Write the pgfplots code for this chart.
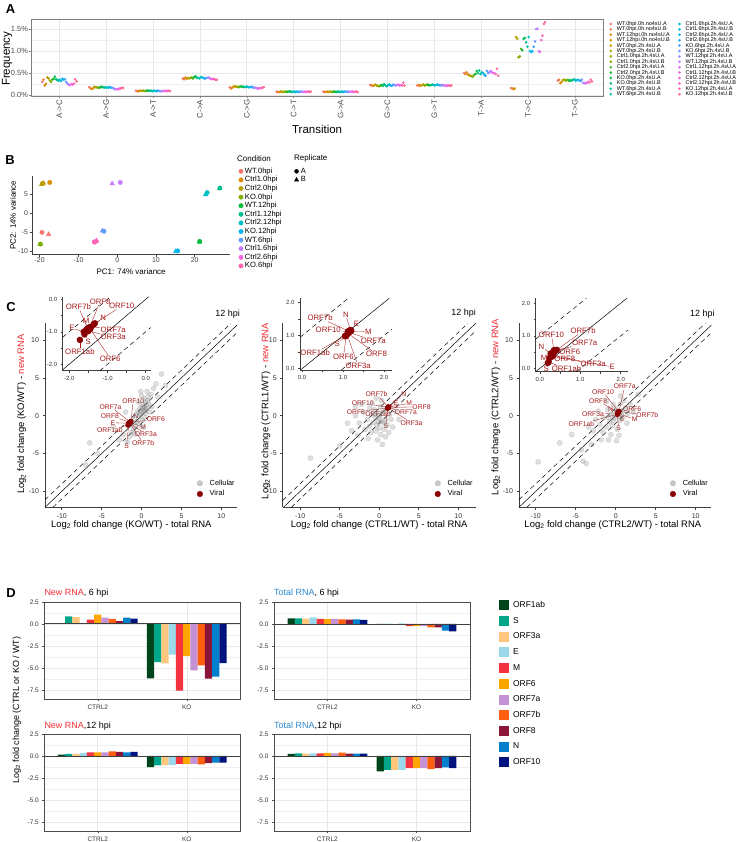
\documentclass[border=0pt]{standalone}
\usepackage{pgfplots}
\pgfplotsset{compat=1.18}
\usepackage{pgfplotstable}
\usepackage{fontspec}
\setmainfont{Liberation Sans}

\definecolor{hc0}{RGB}{248,118,109}
\definecolor{hc1}{RGB}{237,127,62}
\definecolor{hc2}{RGB}{226,137,16}
\definecolor{hc3}{RGB}{211,145,0}
\definecolor{hc4}{RGB}{194,154,0}
\definecolor{hc5}{RGB}{175,161,0}
\definecolor{hc6}{RGB}{149,168,0}
\definecolor{hc7}{RGB}{124,174,0}
\definecolor{hc8}{RGB}{71,179,24}
\definecolor{hc9}{RGB}{18,184,48}
\definecolor{hc10}{RGB}{0,188,80}
\definecolor{hc11}{RGB}{0,190,115}
\definecolor{hc12}{RGB}{0,192,147}
\definecolor{hc13}{RGB}{0,191,172}
\definecolor{hc14}{RGB}{0,191,196}
\definecolor{hc15}{RGB}{0,186,215}
\definecolor{hc16}{RGB}{0,182,234}
\definecolor{hc17}{RGB}{28,173,244}
\definecolor{hc18}{RGB}{69,163,251}
\definecolor{hc19}{RGB}{112,151,255}
\definecolor{hc20}{RGB}{155,138,255}
\definecolor{hc21}{RGB}{199,124,255}
\definecolor{hc22}{RGB}{219,114,243}
\definecolor{hc23}{RGB}{238,103,231}
\definecolor{hc24}{RGB}{248,100,212}
\definecolor{hc25}{RGB}{252,100,191}
\definecolor{hc26}{RGB}{254,103,166}
\definecolor{hc27}{RGB}{251,110,138}

\definecolor{bc1}{HTML}{F8766D}
\definecolor{bc2}{HTML}{DE8C00}
\definecolor{bc3}{HTML}{B79F00}
\definecolor{bc4}{HTML}{7CAE00}
\definecolor{bc5}{HTML}{00BA38}
\definecolor{bc6}{HTML}{00C08B}
\definecolor{bc7}{HTML}{00BFC4}
\definecolor{bc8}{HTML}{00B4F0}
\definecolor{bc9}{HTML}{619CFF}
\definecolor{bc10}{HTML}{C77CFF}
\definecolor{bc11}{HTML}{F564E3}
\definecolor{bc12}{HTML}{FF64B0}

\definecolor{orf0}{RGB}{0,68,27}
\definecolor{orf1}{RGB}{0,166,138}
\definecolor{orf2}{RGB}{255,199,125}
\definecolor{orf3}{RGB}{155,216,234}
\definecolor{orf4}{RGB}{245,51,63}
\definecolor{orf5}{RGB}{255,165,0}
\definecolor{orf6}{RGB}{195,145,212}
\definecolor{orf7}{RGB}{255,94,14}
\definecolor{orf8}{RGB}{139,21,56}
\definecolor{orf9}{RGB}{0,127,204}
\definecolor{orf10}{RGB}{0,20,128}

\definecolor{newred}{RGB}{238,45,55}
\definecolor{totblue}{RGB}{45,135,205}
\definecolor{labred}{RGB}{165,25,25}
\definecolor{vir}{RGB}{139,0,0}
\definecolor{gridc}{RGB}{232,232,232}

\newcommand\fs[1]{\fontsize{#1}{#1}\selectfont}
\newcommand\labm[5]{\node[font=\fs{6.8}, text=labred, inner sep=0.5bp] (L) at (axis cs:#4,#5) {#1};
  \draw[labred, line width=0.35bp] (axis cs:#2,#3) -- (L);}
\newcommand\labi[5]{\node[font=\fs{7.8}, text=labred, inner sep=0.5bp] (L) at (axis cs:#4,#5) {#1};
  \draw[labred, line width=0.35bp] (axis cs:#2,#3) -- (L);}

\pgfplotsset{
  every axis/.append style={/pgf/number format/assume math mode=true},
  cmain/.style={scale only axis, anchor=south west, height=184bp, ymin=-12.1, ymax=12.2,
    axis lines=left, axis line style={-, black!75, line width=0.55bp},
    xtick={-10,-5,0,5,10}, xticklabels={-10,-5,0,5,10},
    ytick={-10,-5,0,5,10}, yticklabels={-10,-5,0,5,10},
    tick align=outside, major tick length=2.5bp, tick style={black!75, line width=0.55bp},
    tick label style={font=\fs{7}, text=black!80},
    label style={font=\fs{9.5}}, xlabel style={anchor=center}, ylabel style={anchor=center},
    legend cell align=left,
    legend style={anchor=north west, draw=none, fill=none, inner sep=0pt, outer sep=0pt, font=\fs{7.4},
      nodes={inner sep=0pt, text height=5.5bp, text depth=1.5bp}, row sep=3.7bp,
      /tikz/every odd column/.append style={column sep=7bp}},
    legend image code/.code={\draw[##1] plot coordinates {(0bp,0bp)};},
    clip=false},
  cell/.style={only marks, mark=*, mark size=2.6bp, gray, opacity=0.26, mark options={draw=none}, forget plot},
  cins/.style={scale only axis, anchor=south west,
    axis lines=left, axis line style={-, black!75, line width=0.5bp},
    tick align=outside, major tick length=2bp, minor tick length=2bp, tick style={black!75, line width=0.5bp},
    tick label style={font=\fs{6}, text=black!80}, clip=false},
  dstyle/.style={scale only axis, anchor=south west, width=196bp, height=97.2bp,
    xmin=0.4, xmax=2.6, ymin=-8.5, ymax=2.5,
    xtick={1,2}, xticklabels={CTRL2,KO}, ytick={-7.5,-5,-2.5,0,2.5}, yticklabels={-7.5,-5.0,-2.5,0.0,2.5},
    minor ytick={-6.25,-3.75,-1.25,1.25}, grid=both,
    major grid style={gridc, line width=0.6bp}, minor grid style={gridc!70, line width=0.35bp},
    axis line style={black!70, line width=0.6bp}, tick style={black!70, line width=0.5bp},
    tick align=outside, major tick length=2bp, minor tick length=0pt, tick pos=left,
    tick label style={font=\fs{6.5}, text=black!80}, clip=true},
  sqleg/.style={legend image code/.code={\fill[##1] (0bp,-5bp) rectangle (10bp,5bp);}},
  dbar/.style={ybar, bar width=7.2bp, bar shift={(#1-5)*7.25bp}, fill=orf#1, draw=none, sqleg},
}

\pgfplotstableread{
s0 s1 s2 s3 s4 s5 s6 s7 s8 s9 s10 s11 s12 s13 s14 s15 s16 s17 s18 s19 s20 s21 s22 s23 s24 s25 s26 s27
0.30 0.35 0.22 0.26 0.40 0.38 0.33 0.30 0.35 0.37 0.42 0.36 0.34 0.33 0.35 0.32 0.37 0.35 0.36 0.30 0.26 0.24 0.23 0.25 0.24 0.26 0.36 0.31
0.18 0.16 0.14 0.15 0.19 0.18 0.18 0.17 0.17 0.18 0.19 0.18 0.17 0.18 0.17 0.17 0.18 0.17 0.17 0.16 0.14 0.13 0.14 0.13 0.15 0.15 0.17 0.16
0.10 0.09 0.09 0.10 0.10 0.10 0.10 0.09 0.10 0.10 0.10 0.10 0.10 0.09 0.10 0.10 0.09 0.10 0.10 0.09 0.09 0.09 0.10 0.09 0.10 0.09 0.10 0.09
0.38 0.36 0.40 0.37 0.39 0.38 0.39 0.40 0.38 0.41 0.43 0.40 0.39 0.38 0.40 0.41 0.39 0.38 0.38 0.39 0.40 0.39 0.37 0.36 0.37 0.36 0.35 0.35
0.18 0.15 0.17 0.19 0.20 0.19 0.19 0.18 0.19 0.20 0.19 0.19 0.18 0.19 0.19 0.18 0.18 0.19 0.18 0.17 0.17 0.16 0.15 0.15 0.16 0.16 0.17 0.18
0.08 0.07 0.07 0.08 0.08 0.07 0.08 0.08 0.07 0.08 0.08 0.08 0.07 0.08 0.08 0.07 0.08 0.08 0.07 0.08 0.08 0.07 0.08 0.07 0.08 0.08 0.07 0.08
0.08 0.07 0.07 0.08 0.07 0.08 0.08 0.07 0.08 0.08 0.07 0.08 0.08 0.07 0.08 0.08 0.07 0.08 0.08 0.07 0.08 0.07 0.08 0.08 0.07 0.08 0.08 0.07
0.23 0.22 0.21 0.22 0.24 0.22 0.21 0.20 0.22 0.23 0.21 0.25 0.22 0.20 0.23 0.24 0.22 0.21 0.24 0.23 0.22 0.23 0.24 0.22 0.23 0.22 0.28 0.22
0.22 0.23 0.21 0.22 0.23 0.24 0.22 0.23 0.24 0.23 0.22 0.23 0.24 0.23 0.22 0.23 0.24 0.23 0.22 0.23 0.22 0.23 0.22 0.21 0.22 0.22 0.21 0.22
0.50 0.48 0.52 0.47 0.45 0.44 0.43 0.42 0.46 0.48 0.55 0.50 0.56 0.48 0.52 0.50 0.46 0.44 0.55 0.50 0.52 0.55 0.52 0.50 0.50 0.48 0.60 0.44
0.16 0.15 0.14 0.15 1.32 1.28 0.86 0.88 1.05 1.02 1.28 1.30 1.20 1.10 1.32 1.00 0.98 1.00 1.10 1.22 1.50 1.51 1.00 0.98 1.25 1.35 1.62 1.66
0.33 0.35 0.27 0.30 0.34 0.35 0.33 0.34 0.35 0.32 0.34 0.33 0.35 0.36 0.33 0.34 0.35 0.33 0.32 0.35 0.28 0.27 0.27 0.28 0.30 0.29 0.35 0.31
}\tabA

\pgfplotstableread{
g o0 o1 o2 o3 o4 o5 o6 o7 o8 o9 o10
1 0 0.86 0.78 0 0.49 1.04 0.71 0.56 0.30 0.71 0.60
2 -6.16 -4.33 -4.48 -3.47 -7.54 -3.66 -5.26 -4.70 -6.19 -5.97 -4.44
}\tabDa
\pgfplotstableread{
g o0 o1 o2 o3 o4 o5 o6 o7 o8 o9 o10
1 0.63 0.63 0.60 0.75 0.58 0.55 0.58 0.50 0.48 0.50 0.45
2 -0.03 -0.03 -0.03 0.05 -0.26 -0.26 -0.26 -0.40 -0.40 -0.75 -0.86
}\tabDb
\pgfplotstableread{
g o0 o1 o2 o3 o4 o5 o6 o7 o8 o9 o10
1 0.15 0.22 0.22 0.34 0.41 0.41 0.41 0.52 0.45 0.41 0.45
2 -1.27 -1.08 -1.04 -1.04 -0.90 -0.90 -0.90 -0.97 -0.82 -0.75 -0.75
}\tabDc
\pgfplotstableread{
g o0 o1 o2 o3 o4 o5 o6 o7 o8 o9 o10
1 0.22 0.30 0.26 0.30 0.30 0.34 0.30 0.37 0.26 0.26 0.26
2 -1.75 -1.57 -1.57 -1.57 -1.38 -1.38 -1.38 -1.49 -1.38 -1.30 -1.38
}\tabDd

\begin{document}
\begin{tikzpicture}
\useasboundingbox (0,0) rectangle (738bp,-842bp);

% ---------------- Panel letters
\node[font=\fs{13}\bfseries] at (10.5bp,-9bp) {A};
\node[font=\fs{13}\bfseries] at (10bp,-160bp) {B};
\node[font=\fs{13}\bfseries] at (11bp,-307.5bp) {C};
\node[font=\fs{13}\bfseries] at (11bp,-593bp) {D};

% ---------------- Panel A
\begin{axis}[at={(31.2bp,-96bp)}, anchor=south west, scale only axis, width=571.8bp, height=77bp,
  xmin=0.4, xmax=12.6, ymin=-0.02, ymax=1.73,
  xtick={1,...,12}, xticklabels={A->C,A->G,A->T,C->A,C->G,C->T,G->A,G->C,G->T,T->A,T->C,T->G},
  ytick={0,0.5,1,1.5}, yticklabels={0.0\%,0.5\%,1.0\%,1.5\%},
  minor ytick={0.25,0.75,1.25},
  grid=both, major grid style={gridc, line width=0.6bp}, minor grid style={gridc!70, line width=0.35bp},
  axis line style={black!50, line width=0.6bp}, tick style={black!50, line width=0.5bp},
  tick align=outside, major tick length=2bp, minor tick length=0pt, tick pos=left,
  tick label style={font=\fs{7.5}, text=black!70},
  yticklabel style={inner sep=1bp},
  xticklabel style={rotate=90, anchor=east, inner sep=1.5bp, font=\fs{8}},
  xlabel={Transition}, ylabel={Frequency}, label style={font=\fs{11.5}},
  xlabel style={at={(axis description cs:0.5,-0.44)}, anchor=center},
  ylabel style={at={(axis description cs:-0.042,0.483)}, anchor=center},
  legend columns=14, transpose legend, legend cell align=left,
  legend style={at={(axis description cs:1.0117,0.969)}, anchor=north west, draw=none, fill=none,
    inner sep=0pt, outer sep=0pt, font=\fs{5.5},
    nodes={inner sep=0pt, text height=4.1bp, text depth=1.1bp}, row sep=0.2bp,
    /tikz/every odd column/.append style={column sep=5bp},
    /tikz/every even column/.append style={column sep=8.5bp}},
  legend image code/.code={\draw[#1] plot coordinates {(0bp,0bp)};},
  legend entries={WT.0hpi.0h.no4sU.A,WT.0hpi.0h.no4sU.B,WT.12hpi.0h.no4sU.A,WT.12hpi.0h.no4sU.B,
    WT.0hpi.2h.4sU.A,WT.0hpi.2h.4sU.B,Ctrl1.0hpi.2h.4sU.A,Ctrl1.0hpi.2h.4sU.B,
    Ctrl2.0hpi.2h.4sU.A,Ctrl2.0hpi.2h.4sU.B,KO.0hpi.2h.4sU.A,KO.0hpi.2h.4sU.B,
    WT.6hpi.2h.4sU.A,WT.6hpi.2h.4sU.B,Ctrl1.6hpi.2h.4sU.A,Ctrl1.6hpi.2h.4sU.B,
    Ctrl2.6hpi.2h.4sU.A,Ctrl2.6hpi.2h.4sU.B,KO.6hpi.2h.4sU.A,KO.6hpi.2h.4sU.B,
    WT.12hpi.2h.4sU.A,WT.12hpi.2h.4sU.B,Ctrl1.12hpi.2h.4sU.A,Ctrl1.12hpi.2h.4sU.B,
    Ctrl2.12hpi.2h.4sU.A,Ctrl2.12hpi.2h.4sU.B,KO.12hpi.2h.4sU.A,KO.12hpi.2h.4sU.B},
  clip=false]
\pgfplotsinvokeforeach{0,...,27}{%
  \addplot[only marks, mark=*, mark size=1.1bp, color=hc#1, mark options={draw=none, fill=hc#1}]
    table[x expr={\coordindex+1+(#1-13.5)*0.027}, y=s#1]{\tabA};
}
\end{axis}

% ---------------- Panel B
\begin{axis}[at={(32.3bp,-254.3bp)}, anchor=south west, scale only axis, width=197.7bp, height=78.3bp,
  xmin=-21.9, xmax=29.1, ymin=-10.9, ymax=9.8,
  axis lines=left, axis line style={-, black!75, line width=0.55bp},
  xtick={-20,-10,0,10,20}, xticklabels={-20,-10,0,10,20},
  ytick={-10,-5,0,5}, yticklabels={-10,-5,0,5},
  tick align=outside, major tick length=2.5bp, tick style={black!75, line width=0.55bp},
  tick label style={font=\fs{7}, text=black!75},
  xticklabel style={inner sep=1bp}, yticklabel style={inner sep=1.5bp},
  xlabel={PC1: 74\% variance}, ylabel={PC2: 14\% variance}, label style={font=\fs{8}},
  xlabel style={at={(axis description cs:0.5,-0.22)}, anchor=center},
  ylabel style={at={(axis description cs:-0.098,0.5)}, anchor=center},
  legend cell align=left,
  legend style={at={(axis description cs:1.0445,1.106)}, anchor=north west, draw=none, fill=none,
    inner sep=0pt, outer sep=0pt, font=\fs{7.6},
    nodes={inner sep=0pt, text height=5.6bp, text depth=1.6bp}, row sep=1.4bp,
    /tikz/every odd column/.append style={column sep=1.8bp}},
  legend image code/.code={\draw[#1] plot coordinates {(0bp,0bp)};},
  clip=false]
\addplot[only marks, mark=*, mark size=2.2bp, bc1] coordinates {(-19.4,-5.1)}; \addlegendentry{WT.0hpi}
\addplot[only marks, mark=triangle*, mark size=2.6bp, bc1, forget plot] coordinates {(-17.7,-5.6)};
\addplot[only marks, mark=*, mark size=2.2bp, bc2] coordinates {(-17.4,8.1)}; \addlegendentry{Ctrl1.0hpi}
\addplot[only marks, mark=triangle*, mark size=2.6bp, bc2, forget plot] coordinates {(-19.0,7.9)};
\addplot[only marks, mark=*, mark size=2.2bp, bc3] coordinates {(-19.3,7.8)}; \addlegendentry{Ctrl2.0hpi}
\addplot[only marks, mark=triangle*, mark size=2.6bp, bc3, forget plot] coordinates {(-19.5,7.6)};
\addplot[only marks, mark=*, mark size=2.2bp, bc4] coordinates {(-19.8,-8.2)}; \addlegendentry{KO.0hpi}
\addplot[only marks, mark=triangle*, mark size=2.6bp, bc4, forget plot] coordinates {(-19.9,-8.3)};
\addplot[only marks, mark=*, mark size=2.2bp, bc5] coordinates {(21.3,-7.5)}; \addlegendentry{WT.12hpi}
\addplot[only marks, mark=triangle*, mark size=2.6bp, bc5, forget plot] coordinates {(21.2,-7.6)};
\addplot[only marks, mark=*, mark size=2.2bp, bc6] coordinates {(26.5,6.6)}; \addlegendentry{Ctrl1.12hpi}
\addplot[only marks, mark=triangle*, mark size=2.6bp, bc6, forget plot] coordinates {(26.4,6.5)};
\addplot[only marks, mark=*, mark size=2.2bp, bc7] coordinates {(23.2,5.4)}; \addlegendentry{Ctrl2.12hpi}
\addplot[only marks, mark=triangle*, mark size=2.6bp, bc7, forget plot] coordinates {(22.8,4.9)};
\addplot[only marks, mark=*, mark size=2.2bp, bc8] coordinates {(15.6,-10.0)}; \addlegendentry{KO.12hpi}
\addplot[only marks, mark=triangle*, mark size=2.6bp, bc8, forget plot] coordinates {(15.1,-10.1)};
\addplot[only marks, mark=*, mark size=2.2bp, bc9] coordinates {(-3.4,-4.8)}; \addlegendentry{WT.6hpi}
\addplot[only marks, mark=triangle*, mark size=2.6bp, bc9, forget plot] coordinates {(-3.8,-4.7)};
\addplot[only marks, mark=*, mark size=2.2bp, bc10] coordinates {(0.8,8.1)}; \addlegendentry{Ctrl1.6hpi}
\addplot[only marks, mark=triangle*, mark size=2.6bp, bc10, forget plot] coordinates {(-1.3,7.8)};
\addplot[only marks, mark=*, mark size=2.2bp, bc11] coordinates {(-5.9,-7.6)}; \addlegendentry{Ctrl2.6hpi}
\addplot[only marks, mark=triangle*, mark size=2.6bp, bc11, forget plot] coordinates {(-5.4,-7.4)};
\addplot[only marks, mark=*, mark size=2.2bp, bc12] coordinates {(-5.8,-7.7)}; \addlegendentry{KO.6hpi}
\addplot[only marks, mark=triangle*, mark size=2.6bp, bc12, forget plot] coordinates {(-5.3,-7.3)};
\end{axis}
% replicate legend
\begin{axis}[at={(32.3bp,-254.3bp)}, anchor=south west, scale only axis, width=197.7bp, height=78.3bp,
  hide axis, xmin=0, xmax=1, ymin=0, ymax=1, legend cell align=left,
  legend style={at={(axis description cs:1.326,1.106)}, anchor=north west, draw=none, fill=none,
    inner sep=0pt, outer sep=0pt, font=\fs{7.6},
    nodes={inner sep=0pt, text height=5.6bp, text depth=1.6bp}, row sep=1.4bp,
    /tikz/every odd column/.append style={column sep=2.2bp}},
  legend image code/.code={\draw[#1] plot coordinates {(0bp,0bp)};}]
\addlegendimage{only marks, mark=*, mark size=2bp, black}\addlegendentry{A}
\addlegendimage{only marks, mark=triangle*, mark size=2.4bp, black}\addlegendentry{B}
\end{axis}
\node[anchor=west, font=\fs{8}, inner sep=0pt] at (237bp,-158.3bp) {Condition};
\node[anchor=west, font=\fs{8}, inner sep=0pt] at (294bp,-158.3bp) {Replicate};

% ---------------- Panel C1 main
\begin{axis}[cmain, at={(45bp,-507.3bp)}, width=192.3bp, xmin=-12.1, xmax=12,
  xlabel={Log\textsubscript{2} fold change (KO/WT) - total RNA},
  ylabel={Log\textsubscript{2} fold change (KO/WT) - \textcolor{newred}{new RNA}},
  xlabel style={at={(axis description cs:0.449,-0.096)}},
  ylabel style={at={(axis description cs:-0.121,0.507)}},
  legend style={at={(axis description cs:0.791,0.1495)}}]
\addplot[black, line width=0.5bp, forget plot] coordinates {(-12.1,-12.1) (12,12)};
\addplot[black, line width=0.5bp, dash pattern=on 4.5bp off 3.5bp, forget plot] coordinates {(-12.1,-11.1) (11.2,12.2)};
\addplot[black, line width=0.5bp, dash pattern=on 4.5bp off 3.5bp, forget plot] coordinates {(-11.1,-12.1) (12,11)};
\addplot[cell] coordinates {
(0.2,0.8)(0.4,1.2)(0,0.5)(-0.2,0.2)(0.5,1.8)(0.3,2.2)(0.8,2.5)(0.1,1.5)(-0.4,-0.3)(-0.6,-0.8)
(-0.8,-1.3)(-1,-1.8)(-0.5,0.6)(0.6,0.9)(0.9,1.5)(1.2,2.8)(0.7,3.2)(1.5,3.6)(-0.2,1.0)(0.3,-0.2)
(-1.2,-2.2)(-1.5,-2.8)(-0.9,-2.5)(-1.8,-3.5)(-0.3,-1.2)(0.1,-0.6)(1.0,0.5)(1.3,1.2)(-1.1,-0.5)(-0.7,0.1)
(0.0,2.6)(-0.4,1.8)(2.0,2.5)(1.8,4.2)(-2.3,-2.5)(-2.8,-3.2)(0.5,0.3)(0.2,-1.5)(-1.4,-1.2)(-0.1,3.2)
(-5.5,-5)(-7,-6.5)(-3.5,-1.5)(-6.5,-3.6)(3,4)(2.5,5.5)(-2,0.5)(0.4,0.7)(0.1,1.1)(0.6,1.4)
(-0.1,0.3)(0.3,1.0)(0.8,2.0)};
\addplot[only marks, mark=*, mark size=2.3bp, vir, forget plot] coordinates {
(-1.72,-1.25)(-1.6,-1.08)(-1.5,-0.98)(-1.62,-1.0)(-1.55,-0.93)(-1.45,-0.92)(-1.42,-0.84)(-1.52,-0.9)(-1.47,-0.86)(-1.36,-0.78)(-1.33,-0.74)};
\addlegendimage{only marks, mark=*, mark size=2.8bp, gray!45}\addlegendentry{Cellular}
\addlegendimage{only marks, mark=*, mark size=2.8bp, vir}\addlegendentry{Viral}
\labm{ORF10}{-1.33}{-0.74}{-1.05}{1.94}
\labm{ORF7a}{-1.42}{-0.84}{-3.88}{1.19}
\labm{ORF8}{-1.47}{-0.86}{-3.96}{0}
\labm{N}{-1.36}{-0.78}{-0.71}{0}
\labm{ORF6}{-1.45}{-0.92}{1.79}{-0.44}
\labm{E}{-1.62}{-1.0}{-3.55}{-0.93}
\labm{M}{-1.55}{-0.93}{0.2}{-1.46}
\labm{ORF1ab}{-1.72}{-1.25}{-3.96}{-1.89}
\labm{ORF3a}{-1.5}{-0.98}{0.54}{-2.46}
\labm{ORF7b}{-1.52}{-0.9}{0.2}{-3.65}
\labm{S}{-1.6}{-1.08}{-1.88}{-3.97}
\node[anchor=east, font=\fs{9}, inner sep=0pt] at (axis description cs:1.014,1.049) {12 hpi};
\end{axis}
% C1 inset
\begin{axis}[cins, at={(62.7bp,-370.7bp)}, width=88bp, height=74bp,
  xmin=-2.17, xmax=0.13, ymin=-2.2, ymax=0.08,
  xtick={-2,-1,0}, xticklabels={-2.0,-1.0,0.0}, ytick={-2,-1,0}, yticklabels={-2.0,-1.0,0.0},
  minor xtick={-1.5,-0.5}, minor ytick={-1.5,-0.5}]
\addplot[black, line width=0.5bp] coordinates {(-2.17,-2.17) (0.08,0.08)};
\addplot[black, line width=0.5bp, dash pattern=on 4.5bp off 3.5bp] coordinates {(-2.17,-1.17) (-0.92,0.08)};
\addplot[black, line width=0.5bp, dash pattern=on 4.5bp off 3.5bp] coordinates {(-1.2,-2.2) (0.13,-0.87)};
\addplot[only marks, mark=*, mark size=3bp, vir] coordinates {
(-1.72,-1.25)(-1.6,-1.08)(-1.5,-0.98)(-1.62,-1.0)(-1.55,-0.93)(-1.45,-0.92)(-1.42,-0.84)(-1.52,-0.9)(-1.47,-0.86)(-1.36,-0.78)(-1.33,-0.74)};
\labi{ORF7b}{-1.52}{-0.9}{-1.76}{-0.23}
\labi{ORF8}{-1.47}{-0.86}{-1.19}{-0.07}
\labi{ORF10}{-1.33}{-0.74}{-0.63}{-0.21}
\labi{N}{-1.36}{-0.78}{-1.11}{-0.58}
\labi{M}{-1.55}{-0.93}{-1.56}{-0.66}
\labi{E}{-1.62}{-1.0}{-1.93}{-0.89}
\labi{ORF7a}{-1.42}{-0.84}{-0.85}{-0.94}
\labi{ORF3a}{-1.5}{-0.98}{-0.85}{-1.15}
\labi{S}{-1.6}{-1.08}{-1.5}{-1.3}
\labi{ORF1ab}{-1.72}{-1.25}{-1.72}{-1.61}
\labi{ORF6}{-1.45}{-0.92}{-0.93}{-1.82}
\end{axis}

% ---------------- Panel C2 main
\begin{axis}[cmain, at={(282.7bp,-507.3bp)}, width=193bp, xmin=-12.2, xmax=12.2,
  xlabel={Log\textsubscript{2} fold change (CTRL1/WT) - total RNA},
  ylabel={Log\textsubscript{2} fold change (CTRL1/WT) - \textcolor{newred}{new RNA}},
  xlabel style={at={(axis description cs:0.5,-0.096)}},
  ylabel style={at={(axis description cs:-0.087,0.523)}},
  legend style={at={(axis description cs:0.789,0.1495)}}]
\addplot[black, line width=0.5bp, forget plot] coordinates {(-12.1,-12.1) (12.2,12.2)};
\addplot[black, line width=0.5bp, dash pattern=on 4.5bp off 3.5bp, forget plot] coordinates {(-12.2,-11.2) (11.2,12.2)};
\addplot[black, line width=0.5bp, dash pattern=on 4.5bp off 3.5bp, forget plot] coordinates {(-11.1,-12.1) (12.2,11.2)};
\addplot[cell] coordinates {
(0,0)(0.5,0.5)(-0.5,-0.3)(-1,0.2)(0.3,-0.8)(-0.3,-1.2)(0.8,-0.5)(-1.5,-0.5)(-2,0.5)(-1.2,1)
(0.2,1.2)(-0.6,0.8)(0.6,-1.8)(0.2,-2.5)(0.8,-2.8)(-0.2,-3.2)(0.4,-3.8)(1.0,-1.2)(1.3,0.2)(-2.5,-1)
(-3,0)(-1.8,-1.8)(-1,-2.2)(-0.4,-2)(1.5,-0.5)(0.9,0.8)(-0.8,-0.9)(0,-1.6)(-2.2,1.5)(-3.5,-2)
(0.3,2)(-0.4,2.3)(-1.4,-3)(1.2,-2.2)(-4,-1)(-0.9,1.6)(2,0.6)(-3,1.2)(1.7,-1.5)(-2.7,-2.6)
(-8.7,-5.6)(-5,-4)(2.5,-0.5)(-0.2,0.4)(-1.2,-1.4)(0.1,-0.4)(-0.5,0.2)(0.4,0.3)(-0.1,-0.8)(0.6,-1.0)};
\addplot[only marks, mark=*, mark size=2.3bp, vir, forget plot] coordinates {
(1.05,0.99)(1.06,0.98)(1.1,1.03)(1.2,1.16)(1.19,1.13)(1.08,1.01)(1.15,1.1)(1.14,1.14)(1.12,1.07)(1.18,1.17)(1.12,1.12)};
\addlegendimage{only marks, mark=*, mark size=2.8bp, gray!45}\addlegendentry{Cellular}
\addlegendimage{only marks, mark=*, mark size=2.8bp, vir}\addlegendentry{Viral}
\labm{ORF7b}{1.14}{1.14}{-0.33}{2.83}
\labm{N}{1.18}{1.17}{3.11}{2.87}
\labm{ORF10}{1.12}{1.12}{-2.09}{1.64}
\labm{E}{1.2}{1.16}{2.1}{1.64}
\labm{M}{1.19}{1.13}{3.78}{1.64}
\labm{ORF8}{1.12}{1.07}{5.35}{1.19}
\labm{ORF6}{1.08}{1.01}{-2.94}{0.53}
\labm{ORF1ab}{1.05}{0.99}{-0.13}{0.19}
\labm{ORF7a}{1.15}{1.1}{3.37}{0.4}
\labm{S}{1.06}{0.98}{0.84}{-1.32}
\labm{ORF3a}{1.1}{1.03}{4.09}{-0.93}
\node[anchor=east, font=\fs{9}, inner sep=0pt] at (axis description cs:1.0016,1.054) {12 hpi};
\end{axis}
% C2 inset
\begin{axis}[cins, at={(300bp,-370bp)}, width=91.7bp, height=71.7bp,
  xmin=-0.05, xmax=2.19, ymin=-0.04, ymax=2.13,
  xtick={0,1,2}, xticklabels={0.0,1.0,2.0}, ytick={0,1,2}, yticklabels={0.0,1.0,2.0},
  minor xtick={0.5,1.5}, minor ytick={0.5,1.5}]
\addplot[black, line width=0.5bp] coordinates {(-0.04,-0.04) (2.13,2.13)};
\addplot[black, line width=0.5bp, dash pattern=on 4.5bp off 3.5bp] coordinates {(-0.05,0.95) (1.13,2.13)};
\addplot[black, line width=0.5bp, dash pattern=on 4.5bp off 3.5bp] coordinates {(0.96,-0.04) (2.19,1.19)};
\addplot[only marks, mark=*, mark size=3bp, vir] coordinates {
(1.05,0.99)(1.06,0.98)(1.1,1.03)(1.2,1.16)(1.19,1.13)(1.08,1.01)(1.15,1.1)(1.14,1.14)(1.12,1.07)(1.18,1.17)(1.12,1.12)};
\labi{ORF7b}{1.14}{1.14}{0.44}{1.53}
\labi{N}{1.18}{1.17}{1.07}{1.63}
\labi{E}{1.2}{1.16}{1.33}{1.35}
\labi{ORF10}{1.12}{1.12}{0.64}{1.19}
\labi{M}{1.19}{1.13}{1.62}{1.12}
\labi{ORF7a}{1.15}{1.1}{1.74}{0.85}
\labi{S}{1.06}{0.98}{0.86}{0.75}
\labi{ORF1ab}{1.05}{0.99}{0.32}{0.48}
\labi{ORF6}{1.08}{1.01}{1.01}{0.35}
\labi{ORF8}{1.12}{1.07}{1.82}{0.44}
\labi{ORF3a}{1.1}{1.03}{1.37}{0.09}
\end{axis}

% ---------------- Panel C3 main
\begin{axis}[cmain, at={(519bp,-507.3bp)}, width=192.3bp, xmin=-12.09, xmax=11.95,
  xlabel={Log\textsubscript{2} fold change (CTRL2/WT) - total RNA},
  ylabel={Log\textsubscript{2} fold change (CTRL2/WT) - \textcolor{newred}{new RNA}},
  xlabel style={at={(axis description cs:0.488,-0.096)}},
  ylabel style={at={(axis description cs:-0.12,0.545)}},
  legend style={at={(axis description cs:0.786,0.1495)}}]
\addplot[black, line width=0.5bp, forget plot] coordinates {(-12.09,-12.09) (11.95,11.95)};
\addplot[black, line width=0.5bp, dash pattern=on 4.5bp off 3.5bp, forget plot] coordinates {(-12.09,-11.09) (11.2,12.2)};
\addplot[black, line width=0.5bp, dash pattern=on 4.5bp off 3.5bp, forget plot] coordinates {(-11.1,-12.1) (11.95,10.95)};
\addplot[cell] coordinates {
(0.3,0.3)(0.8,0.6)(-0.2,-0.3)(0.5,-0.6)(-0.6,0.2)(1.2,1.0)(0,0.9)(-0.8,-0.8)(0.9,-0.2)(-0.4,-1.3)
(0.2,-1.8)(-1.2,-1.5)(1.5,0.3)(-1.5,-0.3)(0.6,1.6)(-0.3,1.5)(1.0,2.0)(-1,0.8)(-2,-1.2)(-1.6,-2.2)
(-0.6,-2.5)(0.4,-2.6)(1.8,1.5)(2.2,0.5)(-2.5,-0.5)(-2.2,0.6)(-0.9,-3.2)(-1.8,-3.2)(0.1,-3.3)(1.4,-1.0)
(-2.8,-2.0)(0.6,2.6)(-1.1,1.9)(-3.4,-1.5)(-0.1,0.1)(0.4,-0.1)(-7,-3.6)(-9.7,-6.1)(-4.1,-6)(-3.7,-6.3)
(-4.3,-4.5)(2.8,2.8)(-5.5,-2.5)(-3,-3.8)(0.2,0.6)(-0.3,-0.6)(0.7,0.1)(-0.9,-0.2)};
\addplot[only marks, mark=*, mark size=2.3bp, vir, forget plot] coordinates {
(0.22,0.2)(0.2,0.17)(0.32,0.4)(0.3,0.36)(0.24,0.32)(0.36,0.5)(0.4,0.55)(0.42,0.57)(0.3,0.42)(0.27,0.46)(0.35,0.56)};
\addlegendimage{only marks, mark=*, mark size=2.8bp, gray!45}\addlegendentry{Cellular}
\addlegendimage{only marks, mark=*, mark size=2.8bp, vir}\addlegendentry{Viral}
\labm{ORF10}{0.35}{0.56}{-1.59}{3.17}
\labm{ORF7a}{0.4}{0.55}{1.13}{3.84}
\labm{ORF8}{0.3}{0.42}{-2.21}{1.98}
\labm{N}{0.27}{0.46}{-0.63}{0.85}
\labm{ORF6}{0.36}{0.5}{2.04}{0.85}
\labm{ORF3a}{0.32}{0.4}{-2.84}{0.19}
\labm{ORF7b}{0.42}{0.57}{3.95}{0.05}
\labm{M}{0.24}{0.32}{2.38}{-0.48}
\labm{E}{0.3}{0.36}{0.83}{-0.4}
\labm{ORF1ab}{0.22}{0.2}{-4.3}{-1.1}
\labm{S}{0.2}{0.17}{0.38}{-1.67}
\node[anchor=east, font=\fs{9}, inner sep=0pt] at (axis description cs:1.018,1.049) {12 hpi};
\end{axis}
% C3 inset
\begin{axis}[cins, at={(535.7bp,-371.7bp)}, width=92.3bp, height=73.4bp,
  xmin=-0.1, xmax=2.18, ymin=-0.1, ymax=2.15,
  xtick={0,1,2}, xticklabels={0.0,1.0,2.0}, ytick={0,1,2}, yticklabels={0.0,1.0,2.0},
  minor xtick={0.5,1.5}, minor ytick={0.5,1.5}]
\addplot[black, line width=0.5bp] coordinates {(-0.1,-0.1) (2.15,2.15)};
\addplot[black, line width=0.5bp, dash pattern=on 4.5bp off 3.5bp] coordinates {(-0.1,0.9) (1.15,2.15)};
\addplot[black, line width=0.5bp, dash pattern=on 4.5bp off 3.5bp] coordinates {(0.9,-0.1) (2.18,1.18)};
\addplot[only marks, mark=*, mark size=3bp, vir] coordinates {
(0.22,0.2)(0.2,0.17)(0.32,0.4)(0.3,0.36)(0.24,0.32)(0.36,0.5)(0.4,0.55)(0.42,0.57)(0.3,0.42)(0.27,0.46)(0.35,0.56)};
\labi{ORF10}{0.35}{0.56}{0.29}{1.02}
\labi{ORF7b}{0.42}{0.57}{1.07}{1.15}
\labi{N}{0.27}{0.46}{0.04}{0.66}
\labi{ORF7a}{0.4}{0.55}{1.11}{0.77}
\labi{ORF6}{0.36}{0.5}{0.74}{0.51}
\labi{M}{0.24}{0.32}{0.11}{0.34}
\labi{ORF8}{0.3}{0.42}{0.62}{0.28}
\labi{ORF3a}{0.32}{0.4}{1.32}{0.15}
\labi{E}{0.3}{0.36}{1.79}{0.05}
\labi{S}{0.2}{0.17}{0.16}{0.0}
\labi{ORF1ab}{0.22}{0.2}{0.66}{-0.02}
\end{axis}

% ---------------- Panel D
\node[anchor=base west, font=\fs{9}, inner sep=0pt] at (44.3bp,-595bp) {\textcolor{newred}{New RNA}, 6 hpi};
\node[anchor=base west, font=\fs{9}, inner sep=0pt] at (274bp,-595bp) {\textcolor{totblue}{Total RNA}, 6 hpi};
\node[anchor=base west, font=\fs{9}, inner sep=0pt] at (44.3bp,-728.3bp) {\textcolor{newred}{New RNA},12 hpi};
\node[anchor=base west, font=\fs{9}, inner sep=0pt] at (274bp,-728.3bp) {\textcolor{totblue}{Total RNA},12 hpi};
\node[rotate=90, font=\fs{9}] at (16.7bp,-710bp) {Log\textsubscript{2} fold change (CTRL or KO / WT)};

\begin{axis}[dstyle, at={(44.3bp,-699bp)}]
\pgfplotsinvokeforeach{0,...,10}{\addplot[dbar=#1] table[x=g, y=o#1]{\tabDa};}
\addplot[black!75, line width=0.8bp, forget plot] coordinates {(0.4,0) (2.6,0)};
\end{axis}
\begin{axis}[dstyle, at={(274bp,-699bp)},
  legend entries={ORF1ab,S,ORF3a,E,M,ORF6,ORF7a,ORF7b,ORF8,N,ORF10}, legend cell align=left,
  legend style={at={(axis description cs:1.147,1.0154)}, anchor=north west, draw=none, fill=none,
    inner sep=0pt, outer sep=0pt, font=\fs{8.5},
    nodes={inner sep=0pt, text height=6.3bp, text depth=1.8bp}, row sep=5.7bp,
    /tikz/every odd column/.append style={column sep=4.3bp}}]
\pgfplotsinvokeforeach{0,...,10}{\addplot[dbar=#1] table[x=g, y=o#1]{\tabDb};}
\addplot[black!75, line width=0.8bp, forget plot] coordinates {(0.4,0) (2.6,0)};
\end{axis}
\begin{axis}[dstyle, at={(44.3bp,-831bp)}]
\pgfplotsinvokeforeach{0,...,10}{\addplot[dbar=#1] table[x=g, y=o#1]{\tabDc};}
\addplot[black!75, line width=0.8bp, forget plot] coordinates {(0.4,0) (2.6,0)};
\end{axis}
\begin{axis}[dstyle, at={(274bp,-831bp)}]
\pgfplotsinvokeforeach{0,...,10}{\addplot[dbar=#1] table[x=g, y=o#1]{\tabDd};}
\addplot[black!75, line width=0.8bp, forget plot] coordinates {(0.4,0) (2.6,0)};
\end{axis}
\end{tikzpicture}
\end{document}
